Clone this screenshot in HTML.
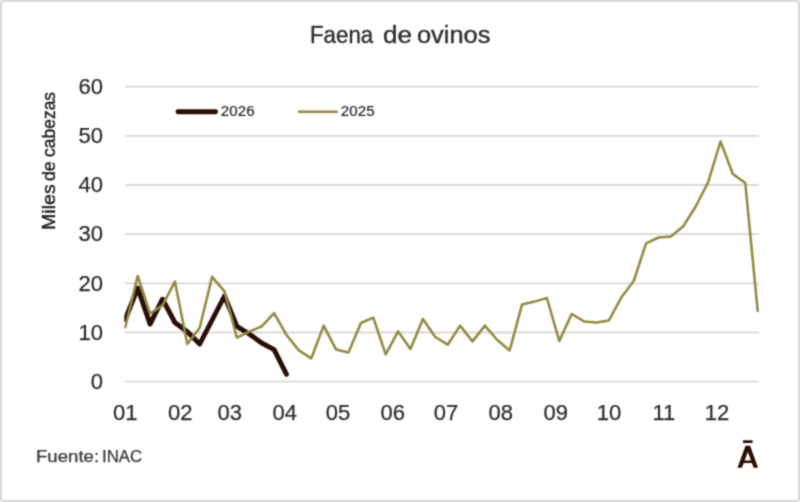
<!DOCTYPE html>
<html><head><meta charset="utf-8"><title>Faena de ovinos</title>
<style>
html,body{margin:0;padding:0;background:#fff;}
body{width:800px;height:502px;position:relative;overflow:hidden;font-family:"Liberation Sans",sans-serif;color:#3c3c3c;}
#frame{position:absolute;left:0;top:0;width:796px;height:498px;border:2px solid #dbd7d8;border-radius:3px;background:#fff;}
svg{position:absolute;left:0;top:0;}
.t{position:absolute;white-space:nowrap;line-height:1;}
#title span{position:absolute;top:23.6px;font-size:23.5px;line-height:1;white-space:nowrap;color:#2e2e2e;transform-origin:0 0;-webkit-text-stroke:0.4px #2e2e2e;}
.yl{font-size:22px;-webkit-text-stroke:0.25px #2c2c2c;color:#2c2c2c;width:60px;text-align:right;left:43px;}
.xl{font-size:22px;-webkit-text-stroke:0.25px #2c2c2c;color:#2c2c2c;width:60px;text-align:center;}
.lg{font-size:15.2px;color:#222;-webkit-text-stroke:0.15px #222;}
#ytitle span{position:absolute;left:39.8px;font-size:18.7px;line-height:1;white-space:nowrap;color:#1e1e1e;-webkit-text-stroke:0.4px #1e1e1e;transform-origin:0 0;}
#src span{position:absolute;top:448px;font-size:16.5px;line-height:1;white-space:nowrap;color:#363636;-webkit-text-stroke:0.25px #363636;transform-origin:0 0;}
#wrap{position:absolute;left:0;top:0;width:800px;height:502px;filter:url(#soft);}
</style></head><body>
<svg width="0" height="0" style="position:absolute"><defs><filter id="soft" x="0" y="0" width="100%" height="100%" color-interpolation-filters="sRGB"><feConvolveMatrix order="3" kernelMatrix="0.0361 0.1178 0.0361 0.1178 0.3846 0.1178 0.0361 0.1178 0.0361" edgeMode="duplicate" preserveAlpha="false"/></filter></defs></svg>
<div id="wrap">
<div id="frame"></div>
<svg width="800" height="502" viewBox="0 0 800 502">
<g stroke="#dbd7d8" stroke-width="1.8">
<line x1="125" y1="86.6" x2="758.8" y2="86.6"/>
<line x1="125" y1="135.8" x2="758.8" y2="135.8"/>
<line x1="125" y1="185.0" x2="758.8" y2="185.0"/>
<line x1="125" y1="234.2" x2="758.8" y2="234.2"/>
<line x1="125" y1="283.4" x2="758.8" y2="283.4"/>
<line x1="125" y1="332.5" x2="758.8" y2="332.5"/>
<line x1="125" y1="381.7" x2="758.8" y2="381.7"/>
</g>
<clipPath id="pc"><rect x="124.3" y="60" width="640" height="340"/></clipPath>
<g clip-path="url(#pc)">
<polyline fill="none" stroke="#2a0e03" stroke-width="4.9" stroke-linejoin="round" stroke-linecap="round" points="125.3,319.5 137.7,288.0 150.1,324.1 162.5,299.2 174.9,322.5 187.3,331.7 199.7,344.0 212.1,320.0 224.5,296.0 236.9,326.4 249.3,334.0 261.7,343.0 274.1,349.6 286.5,374.3"/>
<polyline fill="none" stroke="#918a42" stroke-width="2.55" stroke-linejoin="round" stroke-linecap="round" points="125.3,327.3 137.7,276.0 150.1,313.5 162.5,305.4 174.9,281.6 187.3,344.0 199.7,327.7 212.1,276.8 224.5,291.4 236.9,337.6 249.3,331.7 261.7,326.3 274.1,313.2 286.5,335.0 298.9,350.4 311.3,358.4 323.7,325.6 336.1,349.6 348.5,352.6 360.9,323.0 373.3,317.6 385.7,354.4 398.1,331.4 410.5,349.0 422.9,319.0 435.3,337.0 447.7,344.7 460.1,325.6 472.5,341.4 484.9,325.6 497.3,340.0 509.7,350.4 522.1,304.4 534.5,301.6 546.9,298.0 559.3,341.0 571.7,314.0 584.1,321.4 596.5,322.4 608.9,320.4 621.3,297.6 633.7,281.0 646.1,243.3 658.5,237.5 670.9,236.6 683.3,226.3 695.7,206.5 708.1,182.3 720.5,141.5 732.9,174.0 745.3,183.0 757.7,311.0"/>
</g>
<line x1="178" y1="111.8" x2="215.6" y2="111.8" stroke="#2a0e03" stroke-width="4.9" stroke-linecap="round"/>
<line x1="299" y1="111.8" x2="336.8" y2="111.8" stroke="#918a42" stroke-width="2.55" stroke-linecap="round"/>
<g fill="#2a0e03">
<rect x="743" y="440.3" width="9.6" height="2.7"/>
<path fill-rule="evenodd" d="M737.5 467.7 L745.5 445.8 L750.1 445.8 L758.1 467.7 L753.6 467.7 L751.92 463.1 L743.68 463.1 L742.0 467.7 Z M744.63 460.5 L750.97 460.5 L747.8 451.8 Z"/>
</g>
</svg>
<div id="title"><span style="left:310px;transform:scaleX(0.948)">Faena</span><span style="left:383.1px;transform:scaleX(1.106)">de</span><span style="left:417.2px;transform:scaleX(1.08)">ovinos</span></div>
<div class="t yl" style="top:75.7px">60</div>
<div class="t yl" style="top:124.9px">50</div>
<div class="t yl" style="top:174.1px">40</div>
<div class="t yl" style="top:223.3px">30</div>
<div class="t yl" style="top:272.5px">20</div>
<div class="t yl" style="top:321.6px">10</div>
<div class="t yl" style="top:370.8px">0</div>
<div class="t xl" style="left:95.3px;top:402.3px">01</div>
<div class="t xl" style="left:150.2px;top:402.3px">02</div>
<div class="t xl" style="left:199.8px;top:402.3px">03</div>
<div class="t xl" style="left:254.7px;top:402.3px">04</div>
<div class="t xl" style="left:307.9px;top:402.3px">05</div>
<div class="t xl" style="left:362.8px;top:402.3px">06</div>
<div class="t xl" style="left:415.9px;top:402.3px">07</div>
<div class="t xl" style="left:470.8px;top:402.3px">08</div>
<div class="t xl" style="left:525.8px;top:402.3px">09</div>
<div class="t xl" style="left:578.9px;top:402.3px">10</div>
<div class="t xl" style="left:633.8px;top:402.3px">11</div>
<div class="t xl" style="left:686.9px;top:402.3px">12</div>
<div class="t lg" style="left:220.8px;top:103.3px">2026</div>
<div class="t lg" style="left:340.8px;top:103.3px">2025</div>
<div id="ytitle"><span style="top:230.2px;transform:rotate(-90deg) scaleX(1.049)">Miles</span><span style="top:181.25px;transform:rotate(-90deg) scaleX(0.947)">de</span><span style="top:157px;transform:rotate(-90deg) scaleX(0.935)">cabezas</span></div>
<div id="src"><span style="left:36.1px;transform:scaleX(1.128)">Fuente:</span><span style="left:102px;transform:scaleX(1.02)">INAC</span></div>
</div>
</body></html>
